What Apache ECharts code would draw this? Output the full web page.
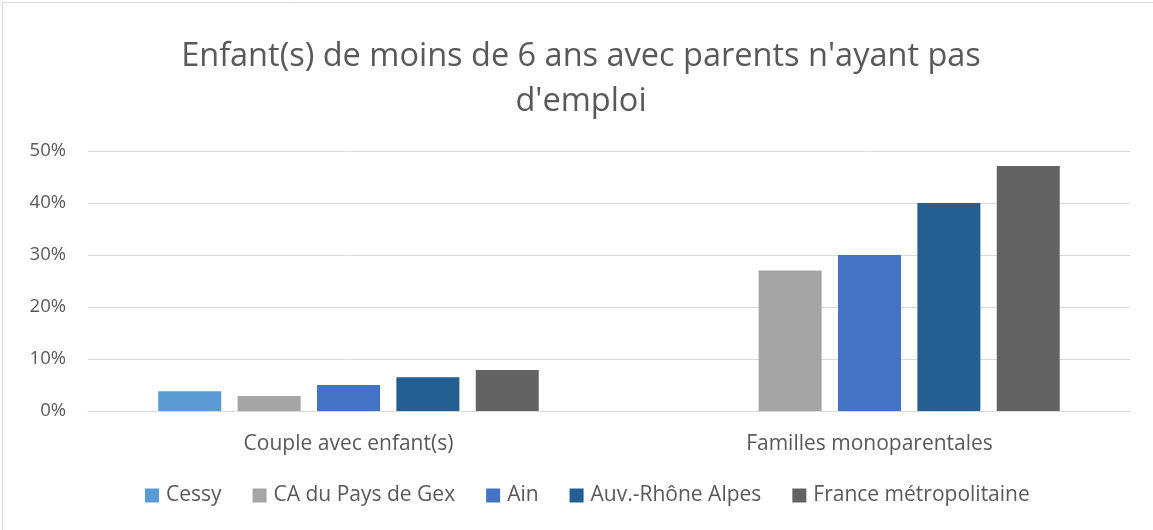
<!DOCTYPE html>
<html>
<head>
<meta charset="utf-8">
<script src="https://cdn.jsdelivr.net/npm/echarts@6/dist/echarts.min.js"></script>
<style>
html,body{margin:0;padding:0;background:#fff;}
#chart{width:1153px;height:530px;}
</style>
</head>
<body>
<div id="chart"></div>
<script>
const categories = ["Couple avec enfant(s)", "Familles monoparentales"];
const seriesNames = ["Cessy", "CA du Pays de Gex", "Ain", "Auv.-Rhône Alpes", "France métropolitaine"];
const cessy = [3.8, null];
const caPaysGex = [2.9, 27.0];
const ain = [5.0, 30.0];
const auvRhoneAlpes = [6.5, 40.0];
const franceMetro = [7.9, 47.1];
const yTicks = [0, 10, 20, 30, 40, 50];
const colors = ["#5B9BD5", "#A5A5A5", "#4472C4", "#255E91", "#636363"];

const values = [cessy, caPaysGex, ain, auvRhoneAlpes, franceMetro];
const font = "Open Sans";
const chart = echarts.init(document.getElementById('chart'));
chart.setOption({
  animation: false,
  backgroundColor: '#fff',
  title: {
    text: "Enfant(s) de moins de 6 ans avec parents n'ayant pas\nd'emploi",
    left: 576,
    top: 29,
    textAlign: 'center',
    textStyle: {color: '#595959', fontSize: 32.5, fontWeight: 'normal', fontFamily: font, lineHeight: 45, align: 'center'}
  },
  graphic: [{
    type: 'rect', left: 0, top: 0,
    shape: {x: 0.5, y: 0.5, width: 1152, height: 529},
    style: {fill: 'none', stroke: '#d9d9d9', lineWidth: 1}
  }],
  legend: {
    bottom: 19,
    left: 140,
    itemWidth: 14, itemHeight: 14, itemGap: 31,
    icon: 'rect',
    textStyle: {color: '#595959', fontSize: 21, fontFamily: font, padding: [0,0,0,2]},
    data: seriesNames
  },
  grid: {left: 88, right: 23, top: 151, bottom: 119},
  xAxis: {
    type: 'category',
    data: categories,
    axisLine: {lineStyle: {color: '#d9d9d9', width: 1}},
    axisTick: {show: false},
    axisLabel: {color: '#595959', fontSize: 21, fontFamily: font, margin: 23}
  },
  yAxis: {
    type: 'value',
    min: yTicks[0], max: yTicks[yTicks.length-1], interval: 10,
    axisLine: {show: false},
    axisTick: {show: false},
    splitLine: {lineStyle: {color: '#d9d9d9', width: 1}},
    axisLabel: {color: '#595959', fontSize: 18.5, fontFamily: font, margin: 22, formatter: v => v + '%'}
  },
  series: seriesNames.map((n, i) => ({
    name: n,
    type: 'bar',
    data: values[i],
    barWidth: 63,
    barGap: '26%',
    itemStyle: {color: colors[i]}
  }))
});
</script>
</body>
</html>
